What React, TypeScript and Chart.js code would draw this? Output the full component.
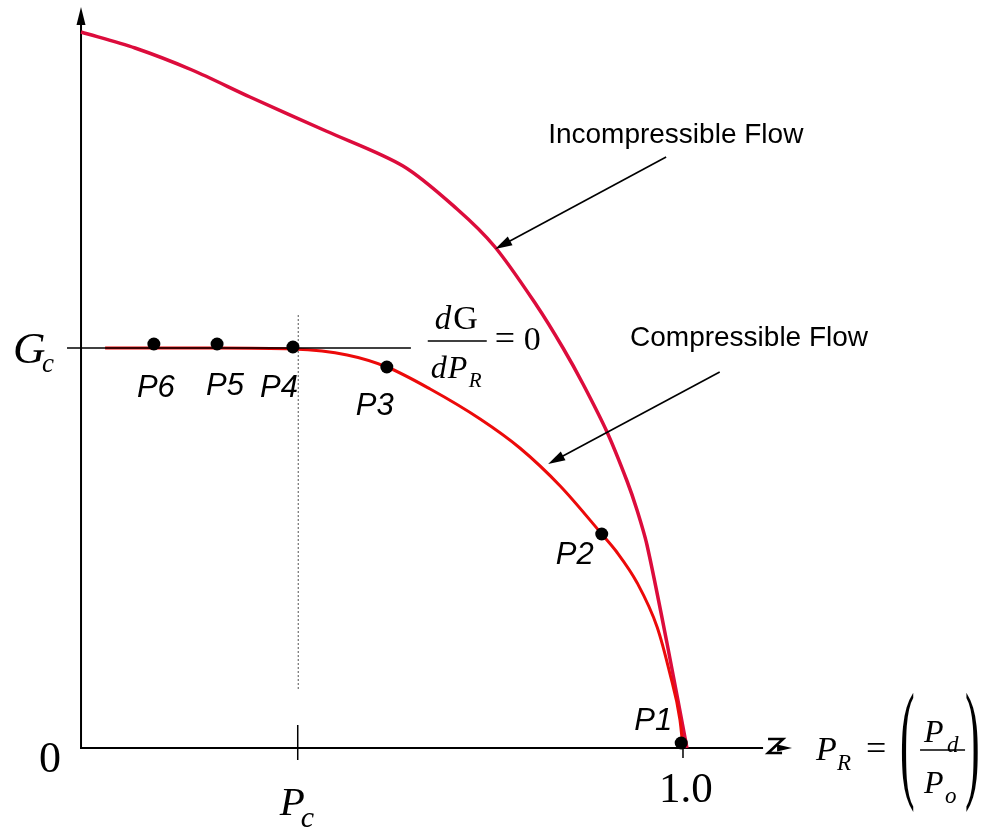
import { useEffect, useRef } from "react";
import { Chart, registerables } from "chart.js";

Chart.register(...registerables);

const WIDTH = 993;
const HEIGHT = 828;

// Pressure ratio P_R = Pd/Po on x, mass flux G on y (G scaled so that G_c = 1)
const incompressibleX = [0, 0.0897, 0.1844, 0.2807, 0.407, 0.5349, 0.6246, 0.6877, 0.7575, 0.8007, 0.8339, 0.8738, 0.907, 0.9236, 0.9402, 0.9734, 1.0066];
const incompressibleY = [1.79, 1.75, 1.695, 1.6275, 1.5425, 1.455, 1.3475, 1.2525, 1.105, 1.0, 0.91, 0.79, 0.6675, 0.595, 0.5075, 0.2625, 0];

const compressibleX = [0.04, 0.121, 0.226, 0.352, 0.442, 0.508, 0.58, 0.663, 0.729, 0.796, 0.865, 0.89, 0.924, 0.957, 0.978, 0.995, 1.0];
const compressibleY = [1.0, 1.0, 1.0, 0.9975, 0.9825, 0.9525, 0.8975, 0.8225, 0.75, 0.655, 0.535, 0.49, 0.4125, 0.3025, 0.1875, 0.07, 0];

const stateNames = ["P1", "P2", "P3", "P4", "P5", "P6"];
const stateX = [0.997, 0.865, 0.508, 0.352, 0.226, 0.121];
const stateY = [0.0125, 0.535, 0.9525, 1.0025, 1.01, 1.01];

const G_C = 1.0;
const P_C = 0.36;
const P_R_ONE = 1.0;

// visible window and axis extents
const X_MIN = -0.1346;
const X_MAX = 1.515;
const Y_MIN = -0.2;
const Y_MAX = 1.87;
const X_AXIS_END = 1.133;
const Y_AXIS_TOP = 1.8525;

const SERIF = "'Liberation Serif', 'Times New Roman', serif";
const SANS = "'Liberation Sans', Arial, sans-serif";

// label offsets from each state point, in pixels
const stateLabelOffset: [number, number][] = [
  [-28, -22],
  [-27, 21],
  [-12, 39],
  [-14, 41],
  [8, 42],
  [2, 44],
];

function toPoints(xs: number[], ys: number[]) {
  return xs.map((x, i) => ({ x, y: ys[i] }));
}

function text(
  ctx: CanvasRenderingContext2D,
  s: string,
  x: number,
  y: number,
  font: string,
  align: CanvasTextAlign = "left",
  baseline: CanvasTextBaseline = "alphabetic"
) {
  ctx.font = font;
  ctx.textAlign = align;
  ctx.textBaseline = baseline;
  ctx.fillText(s, x, y);
  return ctx.measureText(s).width;
}

function arrowHead(
  ctx: CanvasRenderingContext2D,
  tipX: number,
  tipY: number,
  fromX: number,
  fromY: number,
  len: number,
  half: number
) {
  const a = Math.atan2(tipY - fromY, tipX - fromX);
  const bx = tipX - len * Math.cos(a);
  const by = tipY - len * Math.sin(a);
  ctx.beginPath();
  ctx.moveTo(tipX, tipY);
  ctx.lineTo(bx + half * Math.sin(a), by - half * Math.cos(a));
  ctx.lineTo(bx - half * Math.sin(a), by + half * Math.cos(a));
  ctx.closePath();
  ctx.fill();
}

function arrow(
  ctx: CanvasRenderingContext2D,
  x1: number,
  y1: number,
  x2: number,
  y2: number
) {
  const a = Math.atan2(y2 - y1, x2 - x1);
  ctx.lineWidth = 1.6;
  ctx.beginPath();
  ctx.moveTo(x1, y1);
  ctx.lineTo(x2 - 12 * Math.cos(a), y2 - 12 * Math.sin(a));
  ctx.stroke();
  arrowHead(ctx, x2, y2, x1, y1, 17, 5);
}

function tallParen(
  ctx: CanvasRenderingContext2D,
  ch: string,
  x: number,
  cy: number,
  size: number,
  stretch: number
) {
  ctx.save();
  ctx.translate(x, cy);
  ctx.scale(1, stretch);
  ctx.font = `${size}px ${SERIF}`;
  ctx.textAlign = "left";
  ctx.textBaseline = "alphabetic";
  ctx.fillText(ch, 0, 0.25 * size);
  ctx.restore();
}

const diagramPlugin = {
  id: "chokedFlowDiagram",
  beforeDatasetsDraw(chart: Chart) {
    const ctx = chart.ctx;
    const X = (v: number) => chart.scales.x.getPixelForValue(v);
    const Y = (v: number) => chart.scales.y.getPixelForValue(v);
    const x0 = X(0);
    const y0 = Y(0);
    const top = Y(Y_AXIS_TOP);
    const ex = X(X_AXIS_END);

    ctx.save();
    ctx.strokeStyle = "#000";
    ctx.fillStyle = "#000";

    // vertical axis with arrow
    ctx.lineWidth = 2;
    ctx.beginPath();
    ctx.moveTo(x0, y0 + 1);
    ctx.lineTo(x0, top + 14);
    ctx.stroke();
    arrowHead(ctx, x0, top, x0, y0, 18, 4.5);

    // horizontal axis
    ctx.beginPath();
    ctx.moveTo(x0 - 1, y0);
    ctx.lineTo(ex, y0);
    ctx.stroke();

    // arrow mark at the end of the horizontal axis
    ctx.lineWidth = 2.6;
    ctx.beginPath();
    ctx.moveTo(ex + 5, y0 - 9);
    ctx.lineTo(ex + 20, y0 - 9);
    ctx.lineTo(ex + 5, y0 + 5);
    ctx.lineTo(ex + 19, y0 + 5);
    ctx.stroke();
    arrowHead(ctx, ex + 29, y0, ex + 10, y0, 15, 3.5);

    // ticks at P_c and 1.0
    ctx.lineWidth = 1.5;
    ctx.beginPath();
    ctx.moveTo(X(P_C), y0 - 23);
    ctx.lineTo(X(P_C), y0 + 12);
    ctx.moveTo(X(P_R_ONE), y0);
    ctx.lineTo(X(P_R_ONE), y0 + 10);
    ctx.stroke();

    // dotted guide at P_c
    ctx.strokeStyle = "#555";
    ctx.lineWidth = 1;
    ctx.setLineDash([2, 2]);
    ctx.beginPath();
    ctx.moveTo(X(P_C) + 0.5, Y(1.0825));
    ctx.lineTo(X(P_C) + 0.5, Y(0.145));
    ctx.stroke();
    ctx.setLineDash([]);
    ctx.restore();
  },
  afterDatasetsDraw(chart: Chart) {
    const ctx = chart.ctx;
    const X = (v: number) => chart.scales.x.getPixelForValue(v);
    const Y = (v: number) => chart.scales.y.getPixelForValue(v);
    const x0 = X(0);
    const y0 = Y(0);
    const gy = Y(G_C);
    const ex = X(X_AXIS_END);

    ctx.save();
    ctx.strokeStyle = "#000";
    ctx.fillStyle = "#000";

    // G_c level line (dG/dP_R = 0)
    ctx.lineWidth = 1.4;
    ctx.beginPath();
    ctx.moveTo(x0 - 14, gy);
    ctx.lineTo(X(0.548), gy);
    ctx.stroke();

    // state point labels
    stateNames.forEach((name, i) => {
      const [dx, dy] = stateLabelOffset[i];
      text(ctx, name, X(stateX[i]) + dx, Y(stateY[i]) + dy, `italic 31px ${SANS}`, "center", "middle");
    });

    // axis labels
    text(ctx, "G", x0 - 68, gy + 15, `italic 45px ${SERIF}`);
    text(ctx, "c", x0 - 39, gy + 24, `italic 27px ${SERIF}`);
    text(ctx, "0", x0 - 31, y0 + 24, `44px ${SERIF}`, "center");
    text(ctx, "1.0", X(P_R_ONE) + 3, y0 + 54, `43px ${SERIF}`, "center");
    text(ctx, "P", X(P_C) - 18, y0 + 67, `italic 41px ${SERIF}`);
    text(ctx, "c", X(P_C) + 3, y0 + 79, `italic 30px ${SERIF}`);

    // dG / dP_R = 0
    const fx = X(0.576);
    ctx.lineWidth = 1.5;
    ctx.beginPath();
    ctx.moveTo(fx, gy - 7);
    ctx.lineTo(fx + 59, gy - 7);
    ctx.stroke();
    const wd = text(ctx, "d", fx + 7, gy - 19, `italic 33px ${SERIF}`);
    text(ctx, "G", fx + 7 + wd + 2, gy - 19, `34px ${SERIF}`);
    const wd2 = text(ctx, "d", fx + 3, gy + 30, `italic 32px ${SERIF}`);
    text(ctx, "P", fx + 3 + wd2 + 1, gy + 30, `italic 32px ${SERIF}`);
    text(ctx, "R", fx + 41, gy + 39, `italic 21px ${SERIF}`);
    text(ctx, "=", fx + 67, gy + 2, `36px ${SERIF}`);
    text(ctx, "0", fx + 96, gy + 2, `34px ${SERIF}`);

    // P_R = (P_d / P_o)
    text(ctx, "P", ex + 53, y0 + 12, `italic 34px ${SERIF}`);
    text(ctx, "R", ex + 74, y0 + 22, `italic 23px ${SERIF}`);
    text(ctx, "=", ex + 103, y0 + 12, `36px ${SERIF}`);
    tallParen(ctx, "(", ex + 137, y0 + 3, 44, 3.0);
    text(ctx, "P", ex + 161, y0 - 6, `italic 32px ${SERIF}`);
    text(ctx, "d", ex + 184, y0 + 4, `italic 23px ${SERIF}`);
    ctx.lineWidth = 1.5;
    ctx.beginPath();
    ctx.moveTo(ex + 157, y0 + 2);
    ctx.lineTo(ex + 202, y0 + 2);
    ctx.stroke();
    text(ctx, "P", ex + 161, y0 + 45, `italic 32px ${SERIF}`);
    text(ctx, "o", ex + 182, y0 + 55, `italic 23px ${SERIF}`);
    tallParen(ctx, ")", ex + 202, y0 + 3, 44, 3.0);

    // curve callouts
    text(ctx, "Incompressible Flow", X(0.776), Y(1.5325), `28px ${SANS}`, "left", "middle");
    arrow(ctx, X(0.972), Y(1.4775), X(0.688), Y(1.2475));
    text(ctx, "Compressible Flow", X(0.912), Y(1.025), `28px ${SANS}`, "left", "middle");
    arrow(ctx, X(1.061), Y(0.94), X(0.776), Y(0.71));

    ctx.restore();
  },
};

export default function App() {
  const canvasRef = useRef<HTMLCanvasElement | null>(null);

  useEffect(() => {
    const canvas = canvasRef.current;
    if (!canvas) return;
    const chart = new Chart(canvas, {
      type: "scatter",
      data: {
        datasets: [
          {
            label: "States",
            data: toPoints(stateX, stateY),
            pointRadius: 6.5,
            pointBackgroundColor: "#000",
            pointBorderWidth: 0,
            showLine: false,
            order: 0,
          },
          {
            label: "Compressible Flow",
            data: toPoints(compressibleX, compressibleY),
            showLine: true,
            borderColor: "#ec0a0a",
            borderWidth: 3,
            pointRadius: 0,
            cubicInterpolationMode: "monotone",
            order: 1,
          },
          {
            label: "Incompressible Flow",
            data: toPoints(incompressibleX, incompressibleY),
            showLine: true,
            borderColor: "#dc0c3c",
            borderWidth: 3.5,
            borderJoinStyle: "round",
            pointRadius: 0,
            tension: 0.3,
            order: 2,
          },
        ],
      },
      options: {
        animation: false,
        responsive: false,
        devicePixelRatio: 1,
        layout: { padding: 0, autoPadding: false },
        plugins: {
          legend: { display: false },
          tooltip: { enabled: false },
        },
        scales: {
          x: { type: "linear", min: X_MIN, max: X_MAX, display: false },
          y: { type: "linear", min: Y_MIN, max: Y_MAX, display: false },
        },
      },
      plugins: [diagramPlugin],
    });
    return () => chart.destroy();
  }, []);

  return (
    <div style={{ position: "absolute", left: 0, top: 0, width: WIDTH, height: HEIGHT, background: "#fff" }}>
      <canvas ref={canvasRef} width={WIDTH} height={HEIGHT} />
    </div>
  );
}
